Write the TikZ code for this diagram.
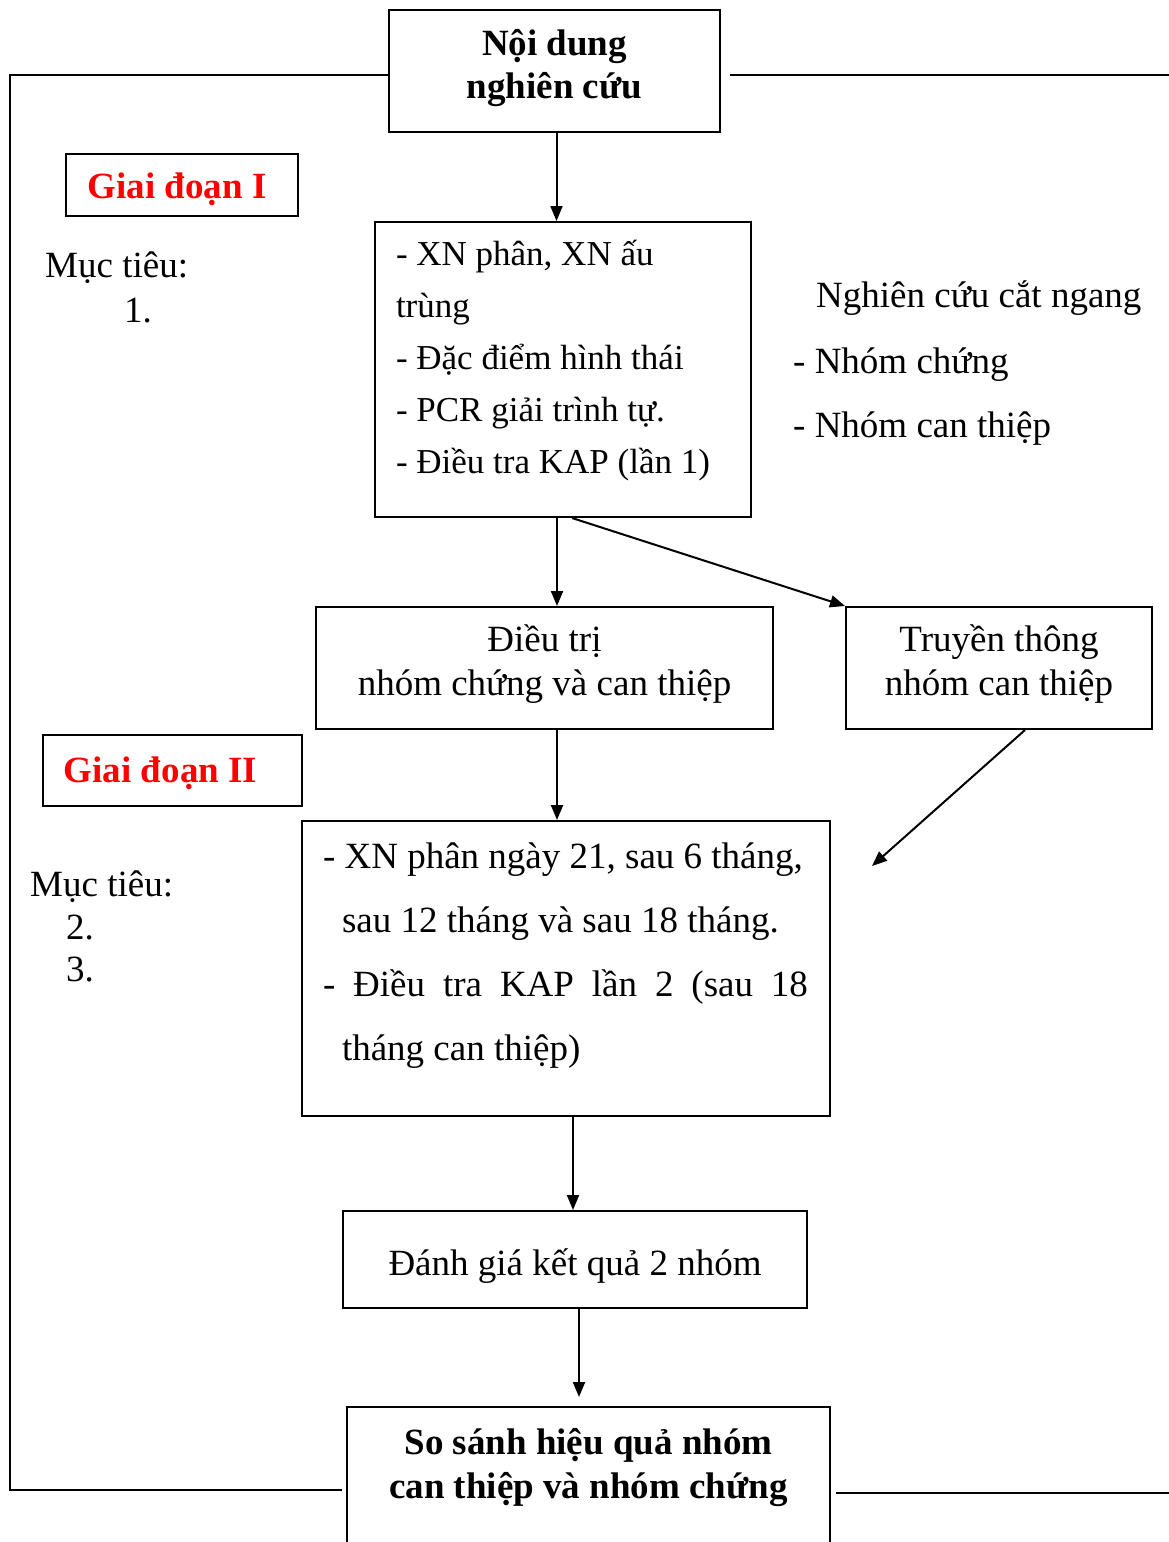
\documentclass[tikz,border=0pt]{standalone}
\usepackage{fontspec}
\setmainfont{Liberation Serif}
\usetikzlibrary{arrows.meta}

\tikzset{
  hop/.style={draw,line width=2pt,inner sep=0pt},
  trai/.style={hop,align=left,execute at begin node={\spaceskip=0pt\xspaceskip=0pt}},
  muiten/.style={line width=2pt,-{Triangle[length=15pt,width=12pt]}},
  khung/.style={line width=2pt},
  giaidoan/.style={hop,text=red,font=\fontsize{37}{44}\selectfont\bfseries,text depth=8pt},
  chu/.style={anchor=base west,inner sep=0pt}
}

\begin{document}
\begin{tikzpicture}[x=1pt,y=-1pt,font=\fontsize{37}{44}\selectfont]
\useasboundingbox (0,0) rectangle (1169,1542);
% cac hop chinh
\node[hop,align=center,minimum width=331pt,minimum height=122pt,font=\fontsize{37}{43}\selectfont\bfseries] (noidung) at (554.5,71) {Nội dung\\nghiên cứu\\[-28pt]~};
\node[trai,text width=334pt,inner xsep=21pt,minimum height=295pt,font=\fontsize{35}{52}\selectfont] (xetnghiem) at (563,369.5)
  {- XN phân, XN ấu\\trùng\\- Đặc điểm hình thái\\- PCR giải trình tự.\\- Điều tra KAP (lần 1)\\[-26pt]~};
\node[hop,align=center,minimum width=457pt,minimum height=122pt] (dieutri) at (544.5,668) {Điều trị\\nhóm chứng và can thiệp\\[-29pt]~};
\node[hop,align=center,minimum width=306pt,minimum height=122pt] (truyenthong) at (999,668) {Truyền thông\\nhóm can thiệp\\[-29pt]~};
\node[trai,text width=494pt,inner xsep=17pt,minimum height=295pt,font=\fontsize{37}{64}\selectfont] (theodoi) at (566,968.5)
  {\hspace*{4pt}- XN phân ngày 21, sau 6 tháng,\\\hspace*{23pt}sau 12 tháng và sau 18 tháng.\\\hspace*{4pt}\makebox[485pt][s]{- Điều tra KAP lần 2 (sau 18}\\\hspace*{23pt}tháng can thiệp)\\[-31pt]~};
\node[hop,minimum width=464pt,minimum height=97pt,text height=40pt,text depth=9pt] (danhgia) at (575,1259.5) {Đánh giá kết quả 2 nhóm};
\node[hop,anchor=north,align=center,minimum width=483pt,minimum height=157pt,font=\fontsize{37}{44}\selectfont\bfseries] (sosanh) at (588.5,1406) {So sánh hiệu quả nhóm\\can thiệp và nhóm chứng\\~};

% giai doan va muc tieu
\node[giaidoan,minimum width=232pt,minimum height=62pt,text height=35pt] (gd1) at (182,185) {Giai đoạn I\hspace*{10pt}};
\node[giaidoan,minimum width=259pt,minimum height=71pt,text height=31pt] (gd2) at (172.5,770.5) {Giai đoạn II\hspace*{24pt}};
\node[chu] (muctieu1) at (45,277) {Mục tiêu:};
\node[chu] (so1) at (124,322) {1.};
\node[chu] (muctieu2) at (30,896) {Mục tiêu:};
\node[chu] (so2) at (66,939) {2.};
\node[chu] (so3) at (66,981) {3.};
\node[chu] (catngang) at (816,307) {Nghiên cứu cắt ngang};
\node[chu] (nhomchung) at (793,373) {- Nhóm chứng};
\node[chu] (nhomcan) at (793,437) {- Nhóm can thiệp};

% khung ngoai
\coordinate (goctren) at (10,75);
\coordinate (gocduoi) at (10,1490);
\coordinate (phaitren) at (1169,75);
\coordinate (phaiduoi) at (1169,1493);
\draw[khung] (noidung.west |- goctren) -- (goctren) -- (gocduoi) -- ([xshift=-4pt]sosanh.west |- gocduoi);
\draw[khung] ([xshift=9pt]noidung.east |- phaitren) -- (phaitren);
\draw[khung] ([xshift=5pt]sosanh.east |- phaiduoi) -- (phaiduoi);

% mui ten
\coordinate (dich) at (872,866);
\draw[muiten] ([xshift=2pt]noidung.south) -- ([xshift=2pt]noidung.south |- xetnghiem.north);
\draw[muiten] ([xshift=-6pt]xetnghiem.south) -- ([xshift=-6pt]xetnghiem.south |- dieutri.north);
\draw[muiten] ([xshift=9pt]xetnghiem.south) -- (truyenthong.north west);
\draw[muiten] ([xshift=-6pt]xetnghiem.south |- dieutri.south) -- ([xshift=-6pt]xetnghiem.south |- theodoi.north);
\draw[muiten] ([xshift=26pt]truyenthong.south) -- (dich);
\draw[muiten] ([xshift=7pt]theodoi.south) -- ([xshift=7pt]theodoi.south |- danhgia.north);
\draw[muiten,shorten >=9pt] ([xshift=4pt]danhgia.south) -- ([xshift=4pt]danhgia.south |- sosanh.north);
\end{tikzpicture}
\end{document}
